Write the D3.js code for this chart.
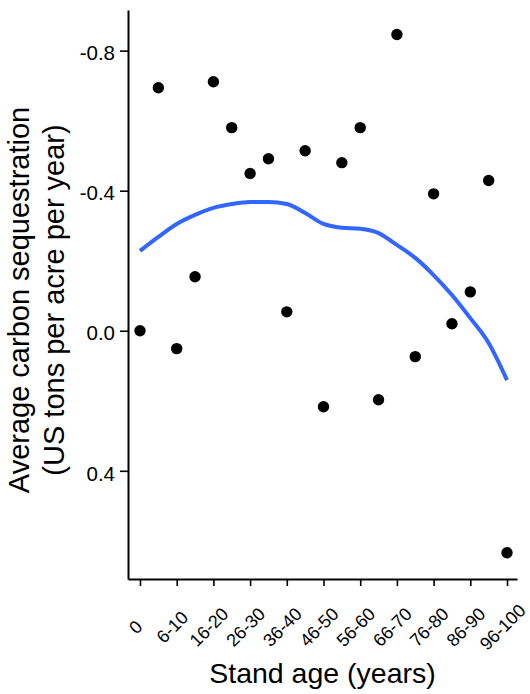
<!DOCTYPE html>
<html>
<head>
<meta charset="utf-8">
<script src="https://cdn.jsdelivr.net/npm/d3@7"></script>
<style>
  body { margin: 0; background: #fff; }
  #chart { width: 530px; height: 694px; }
  text { font-family: "Liberation Sans", Arial, Helvetica, sans-serif; fill: #000; }
</style>
</head>
<body>
<div id="chart"></div>
<script>
// stand age classes (index 0..20), only every other one gets a label
const ageClasses = ["0", "1-5", "6-10", "11-15", "16-20", "21-25", "26-30", "31-35", "36-40", "41-45",
  "46-50", "51-55", "56-60", "61-65", "66-70", "71-75", "76-80", "81-85", "86-90", "91-95", "96-100"];
// average carbon sequestration per class
const sequestration = [0.0, -0.694, 0.051, -0.154, -0.711, -0.58, -0.449, -0.491, -0.054, -0.514,
  0.217, -0.48, -0.58, 0.197, -0.846, 0.074, -0.391, -0.02, -0.111, -0.429, 0.634];
// smoothed (loess) trend, evaluated at each class
const smoothFit = [-0.228, -0.268, -0.305, -0.331, -0.351, -0.362, -0.368, -0.368, -0.362, -0.336,
  -0.305, -0.294, -0.291, -0.279, -0.245, -0.208, -0.159, -0.102, -0.036, 0.035, 0.141];
const yTicks = [-0.8, -0.4, 0.0, 0.4];

const width = 530, height = 694;
const margin = { left: 128, right: 13, top: 10, bottom: 115 };
const innerW = width - margin.left - margin.right;
const innerH = height - margin.top - margin.bottom;

const svg = d3.select("#chart").append("svg")
  .attr("width", width)
  .attr("height", height);

const g = svg.append("g")
  .attr("transform", `translate(${margin.left},${margin.top})`);

// x: class index, with ggplot-like expansion on both sides
const x = d3.scaleLinear().domain([-0.654, 20.545]).range([0, innerW]);
// y: reversed, negative values on top
const y = d3.scaleLinear().domain([-0.916, 0.709]).range([0, innerH]);

// points
g.append("g").selectAll("circle")
  .data(sequestration)
  .join("circle")
  .attr("cx", (d, i) => x(i))
  .attr("cy", d => y(d))
  .attr("r", 5.7)
  .attr("fill", "#000");

// smooth line
const line = d3.line()
  .x((d, i) => x(i))
  .y(d => y(d))
  .curve(d3.curveMonotoneX);
g.append("path")
  .datum(smoothFit)
  .attr("d", line)
  .attr("fill", "none")
  .attr("stroke", "#3366FF")
  .attr("stroke-width", 4);

// axes
const xAxis = g.append("g")
  .attr("transform", `translate(0,${innerH})`)
  .call(d3.axisBottom(x)
    .tickValues(d3.range(0, 21, 2))
    .tickFormat(i => ageClasses[i])
    .tickSize(7)
    .tickSizeOuter(0));
xAxis.selectAll("text")
  .attr("x", 0).attr("y", 0).attr("dy", "0.35em")
  .attr("text-anchor", "middle")
  .attr("transform", "translate(-5,48) rotate(-45)")
  .style("font-size", "18px");

const yAxis = g.append("g")
  .call(d3.axisLeft(y)
    .tickValues(yTicks)
    .tickFormat(d => d.toFixed(1))
    .tickSize(8)
    .tickSizeOuter(0));
yAxis.selectAll("text")
  .attr("x", -13)
  .attr("dy", "0.45em")
  .style("font-size", "20.5px");

[xAxis, yAxis].forEach(a => {
  a.select(".domain").attr("stroke", "#000").attr("stroke-width", 2);
  a.selectAll(".tick line").attr("stroke", "#000").attr("stroke-width", 1.6);
});

// titles
svg.append("text")
  .attr("x", margin.left + innerW / 2)
  .attr("y", 683)
  .attr("text-anchor", "middle")
  .style("font-size", "28.5px")
  .text("Stand age (years)");

const yTitle = svg.append("text")
  .attr("transform", "translate(29,300) rotate(-90)")
  .attr("text-anchor", "middle")
  .style("font-size", "29px");
yTitle.append("tspan").attr("x", 0).attr("y", 0).text("Average carbon sequestration");
yTitle.append("tspan").attr("x", 0).attr("y", 35).text("(US tons per acre per year)");
</script>
</body>
</html>
